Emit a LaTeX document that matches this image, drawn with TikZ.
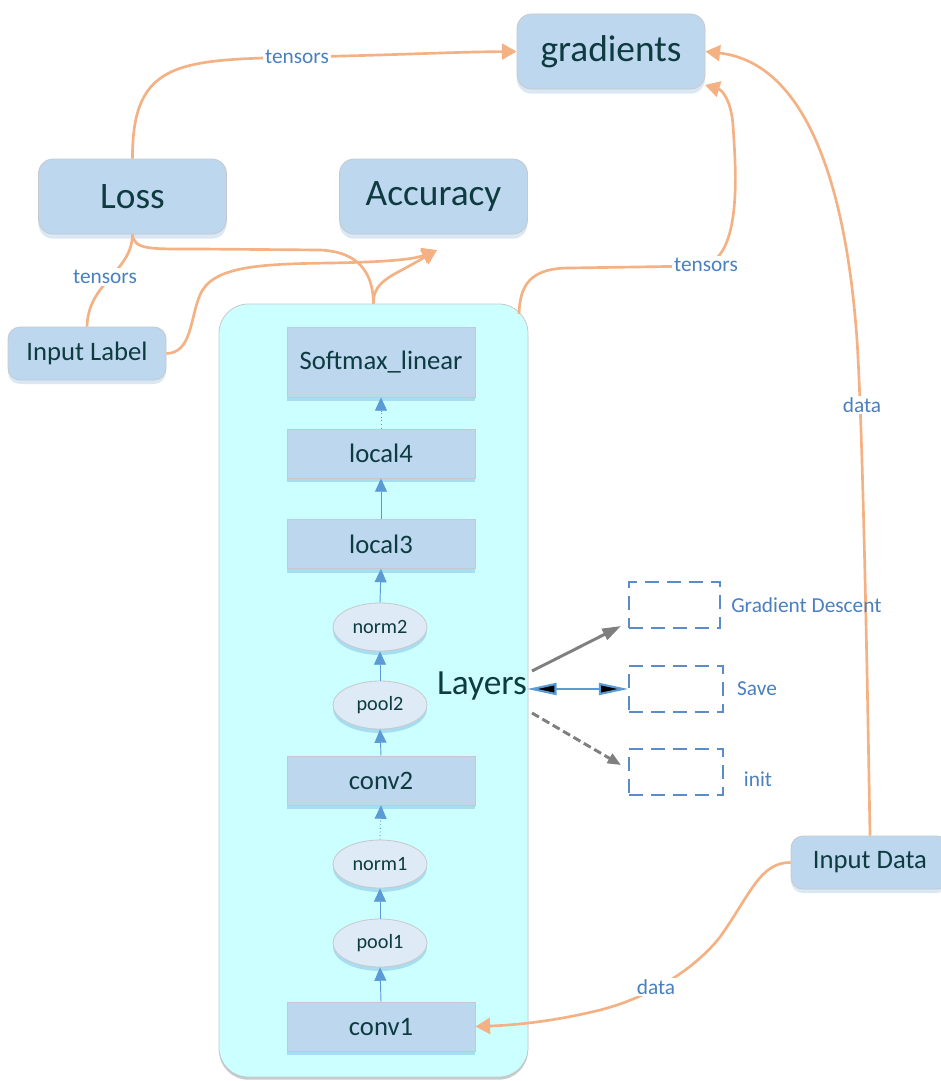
\documentclass[tikz,border=0pt]{standalone}
\usepackage{fontspec}
\setmainfont{Carlito}
\usetikzlibrary{arrows.meta,shadows,shapes.geometric}
\definecolor{boxblue}{HTML}{BDD7EE}
\definecolor{boxedge}{HTML}{C6C9CC}
\definecolor{boxshadow}{HTML}{DAE7F4}
\definecolor{layershadow}{HTML}{A8DDF0}
\definecolor{ovalfill}{HTML}{DEEAF6}
\definecolor{panelfill}{HTML}{CCFFFF}
\definecolor{panelshadow}{HTML}{C4CCCC}
\definecolor{inktext}{HTML}{0D3B40}
\definecolor{tagtext}{HTML}{4A80C0}
\definecolor{flowblue}{HTML}{5B9BD5}
\definecolor{linkorange}{HTML}{F4B183}
\definecolor{dashblue}{HTML}{5B8CC8}
\definecolor{pointergray}{HTML}{7F7F7F}
\begin{document}
\begin{tikzpicture}[x=0.75pt,y=-0.75pt,
  topbox/.style={rectangle,rounded corners=11pt,fill=boxblue,draw=boxedge,line width=0.6pt,
    minimum width=141pt,minimum height=56.25pt,inner sep=0pt,text=inktext,
    font=\fontsize{28}{32}\selectfont,
    drop shadow={shadow xshift=0pt,shadow yshift=-3.5pt,fill=boxshadow,opacity=1,draw=none}},
  inputbox/.style={rectangle,rounded corners=9pt,fill=boxblue,draw=boxedge,line width=0.6pt,
    minimum width=118.5pt,minimum height=39.75pt,inner sep=0pt,text=inktext,
    font=\fontsize{20}{24}\selectfont,
    drop shadow={shadow xshift=0pt,shadow yshift=-3pt,fill=boxshadow,opacity=1,draw=none}},
  panelbox/.style={rectangle,rounded corners=22pt,fill=panelfill,draw=boxedge,line width=0.6pt,
    minimum width=231.75pt,minimum height=579.75pt,inner sep=0pt,
    drop shadow={shadow xshift=0pt,shadow yshift=-2pt,fill=panelshadow,opacity=1,draw=none}},
  layerbox/.style={rectangle,fill=boxblue,draw=boxedge,line width=0.6pt,
    minimum width=141pt,inner sep=0pt,text=inktext,font=\fontsize{20}{24}\selectfont,
    drop shadow={shadow xshift=0pt,shadow yshift=-3pt,fill=layershadow,opacity=1,draw=none}},
  ovalbox/.style={ellipse,fill=ovalfill,draw=boxedge,line width=0.6pt,
    minimum width=70.5pt,minimum height=36pt,inner sep=0pt,text=inktext,
    font=\fontsize{15.2}{18}\selectfont,
    drop shadow={shadow xshift=0pt,shadow yshift=-3pt,fill=layershadow,opacity=1,draw=none}},
  slotbox/.style={rectangle,draw=dashblue,line width=1.3pt,dash pattern=on 10.5pt off 6pt,
    minimum height=34.5pt,inner sep=0pt},
  tag/.style={font=\fontsize{16}{19}\selectfont,text=tagtext,inner sep=1.5pt},
  linktag/.style={tag,fill=white},
  link/.style={draw=linkorange,line width=2pt},
  linkarrow/.style={link,-{Triangle[length=11pt,width=12pt]}},
  flow/.style={draw=flowblue,line width=0.7pt,-{Triangle[length=10pt,width=9pt]}},
]
\useasboundingbox (0,0) rectangle (941,1081);

% panel holding the network layers
\node[panelbox] (panel) at (373.5,690.5) {};

% top-level boxes
\node[topbox] (grad) at (611,51.5) {gradients};
\node[topbox] (loss) at (132.5,196.5) {Loss};
\node[topbox] (acc) at (433.5,196.5) {Accuracy};
\node[inputbox] (label) at (87,353.5) {Input Label};
\node[inputbox] (data) at (870,862.5) {Input Data};

% network layers, bottom to top
\node[layerbox,minimum height=52.5pt] (softmax) at (381,362) {Softmax\_linear};
\node[layerbox,minimum height=36.75pt] (local4) at (381,453.5) {local4};
\node[layerbox,minimum height=36.75pt] (local3) at (381,544) {local3};
\node[ovalbox] (norm2) at (380,627) {norm2};
\node[ovalbox] (pool2) at (380,705) {pool2};
\node[layerbox,minimum height=36.75pt] (conv2) at (381,780.5) {conv2};
\node[ovalbox] (norm1) at (380,864) {norm1};
\node[ovalbox] (pool1) at (380,943) {pool1};
\node[layerbox,minimum height=36.75pt] (conv1) at (381,1026.5) {conv1};

\draw[flow] (conv1.north) -- (pool1.south);
\draw[flow] (pool1.north) -- (norm1.south);
\draw[flow,dotted] (norm1.north) -- (conv2.south);
\draw[flow] (conv2.north) -- (pool2.south);
\draw[flow] (pool2.north) -- (norm2.south);
\draw[flow] (norm2.north) -- (local3.south);
\draw[flow] (local3.north) -- (local4.south);
\draw[flow,dotted] (local4.north) -- (softmax.south);

% orange data links
\coordinate (panelcorner) at (519,314);
\coordinate (acctip) at (437,250);
\draw[linkarrow] (loss.north) .. controls (132,60) and (180,60) .. (300,57)
  .. controls (400,55) and (450,52) .. (grad.west);
\node[linktag] (t1) at (297,57) {tensors};
\draw[link] (loss.south) .. controls (132,272) and (88,282) .. (label.north);
\node[linktag] (t2) at (105,277) {tensors};
\draw[link] (loss.south) .. controls (134,250) and (150,249) .. (200,249)
  -- (320,250) .. controls (365,252) and (373,280) .. (panel.north);
\draw[linkarrow] (panel.north) .. controls (373,286) and (385,279) .. (400,271)
  .. controls (415,263) and (425,257) .. (acctip);
\draw[linkarrow] (label.east) .. controls (192,353) and (190,318) .. (200,295)
  .. controls (212,266) and (260,264) .. (330,263)
  .. controls (390,262) and (415,259) .. (acctip);
\draw[linkarrow] (panelcorner) .. controls (520,285) and (530,268) .. (570,268)
  -- (700,266) .. controls (745,262) and (735,160) .. (733,125)
  .. controls (731,100) and (722,90) .. (705,85);
\node[linktag] (t3) at (706,265) {tensors};
\draw[linkarrow] (data.north) .. controls (866,600) and (862,420) .. (857,340)
  .. controls (845,170) and (800,62) .. (grad.east);
\node[linktag] (t4) at (862,405) {data};
\draw[linkarrow] (data.west) .. controls (760,862) and (750,895) .. (720,937)
  .. controls (690,975) and (640,1000) .. (600,1010)
  .. controls (560,1020) and (520,1025) .. (conv1.east);
\node[linktag] (t5) at (656,987) {data};

% layer operations
\node[text=inktext,font=\fontsize{26.5}{30}\selectfont,inner sep=0pt] (layers) at (482,686) {Layers};
\node[slotbox,minimum width=68.25pt] (gd) at (674.5,605) {};
\node[slotbox,minimum width=70.5pt] (save) at (676,689) {};
\node[slotbox,minimum width=70.5pt] (init) at (676,772) {};
\node[tag,anchor=west] (gdtag) at (729,605) {Gradient Descent};
\node[tag] (savetag) at (757,689) {Save};
\node[tag] (inittag) at (758,779) {init};

\coordinate (gdfrom) at (532,671);
\coordinate (gdto) at (621,626);
\coordinate (initfrom) at (532,713);
\coordinate (initto) at (621,765);
\draw[pointergray,line width=2.2pt,-{Triangle[length=14pt,width=9pt]}] (gdfrom) -- (gdto);
\draw[flowblue,line width=1.6pt,{Triangle[length=22pt,width=9pt,fill=black]}-{Triangle[length=22pt,width=9pt,fill=black]}]
  (layers.east |- save.west) -- (save.west);
\draw[pointergray,line width=2.2pt,dash pattern=on 6pt off 3pt,-{Triangle[length=10pt,width=8pt]}] (initfrom) -- (initto);
\end{tikzpicture}
\end{document}
